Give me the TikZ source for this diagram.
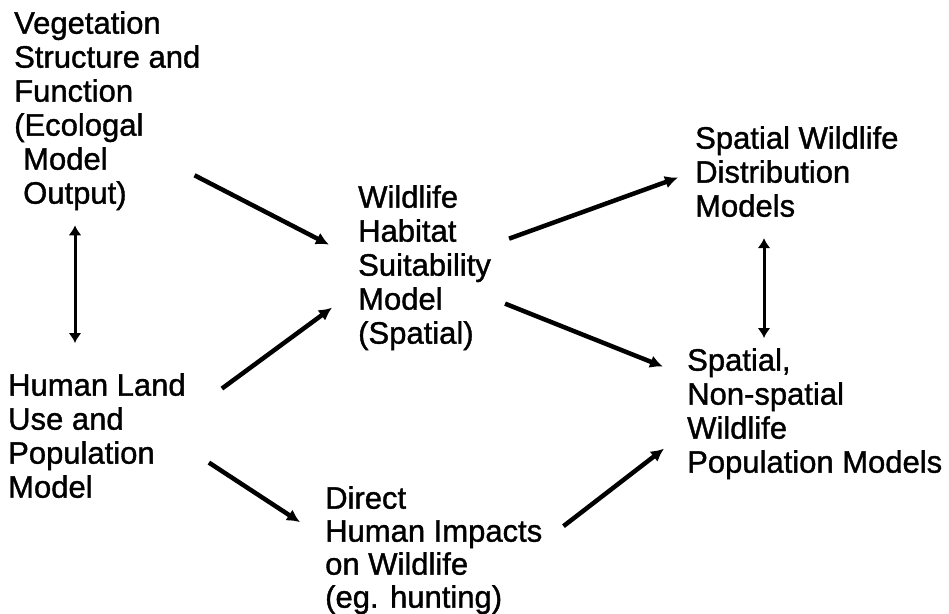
\documentclass[tikz,border=0pt]{standalone}
\usepackage{fontspec}
\setmainfont{Liberation Sans}[FakeBold=1.2]
\usetikzlibrary{arrows.meta,calc}
\tikzset{
  block/.style={inner sep=0pt,anchor=north west,align=left,
    font=\fontsize{31}{34}\selectfont},
  flow/.style={-{Latex[length=13pt,width=13pt]},line width=4.5pt},
  link/.style={{Latex[length=10pt,width=13pt]}-{Latex[length=10pt,width=13pt]},line width=3pt}
}

\begin{document}
\begin{tikzpicture}[x=1pt,y=-1pt]
  \useasboundingbox (0,0) rectangle (949,613);
  % model blocks
  \node[block] (veg) at (14,11) {Vegetation\\Structure and\\Function\\(Ecologal\\\hspace*{9pt}Model\\\hspace*{9pt}Output)};
  \node[block] (landuse) at (8,373) {Human Land\\Use and\\Population\\Model};
  \node[block] (habitat) at (358,185) {Wildlife\\Habitat\\Suitability\\Model\\(Spatial)};
  \node[block] (distrib) at (695,126) {Spatial Wildlife\\Distribution\\Models};
  \node[block] (popmodel) at (687,348) {Spatial,\\Non-spatial\\Wildlife\\Population Models};
  \node[block,font=\fontsize{31}{33}\selectfont] (impacts) at (325,486) {Direct\\Human Impacts\\on Wildlife\\(eg. hunting)};
  % flows between them
  \draw[flow] ($(veg.south east)+(-6,-35)$) -- ($(habitat.west)+(-29,-23)$);
  \draw[flow] ($(landuse.east)+(36,-47)$) -- ($(habitat.west)+(-26,40)$);
  \draw[flow] ($(landuse.east)+(23,27)$) -- ($(impacts.west)+(-25,-28)$);
  \draw[flow] ($(habitat.east)+(18,-29)$) -- ($(distrib.west)+(-17,6)$);
  \draw[flow] ($(habitat.east)+(14,36)$) -- ($(popmodel.west)+(-24,-47)$);
  \draw[flow] ($(impacts.east)+(21,-24)$) -- ($(popmodel.west)+(-23,35)$);
  \draw[link] ($(veg.south west)+(61,15)$) -- ($(landuse.north west)+(67,-30)$);
  \draw[link] ($(distrib.south west)+(69,21)$) -- ($(popmodel.north west)+(77,-10)$);
\end{tikzpicture}
\end{document}
